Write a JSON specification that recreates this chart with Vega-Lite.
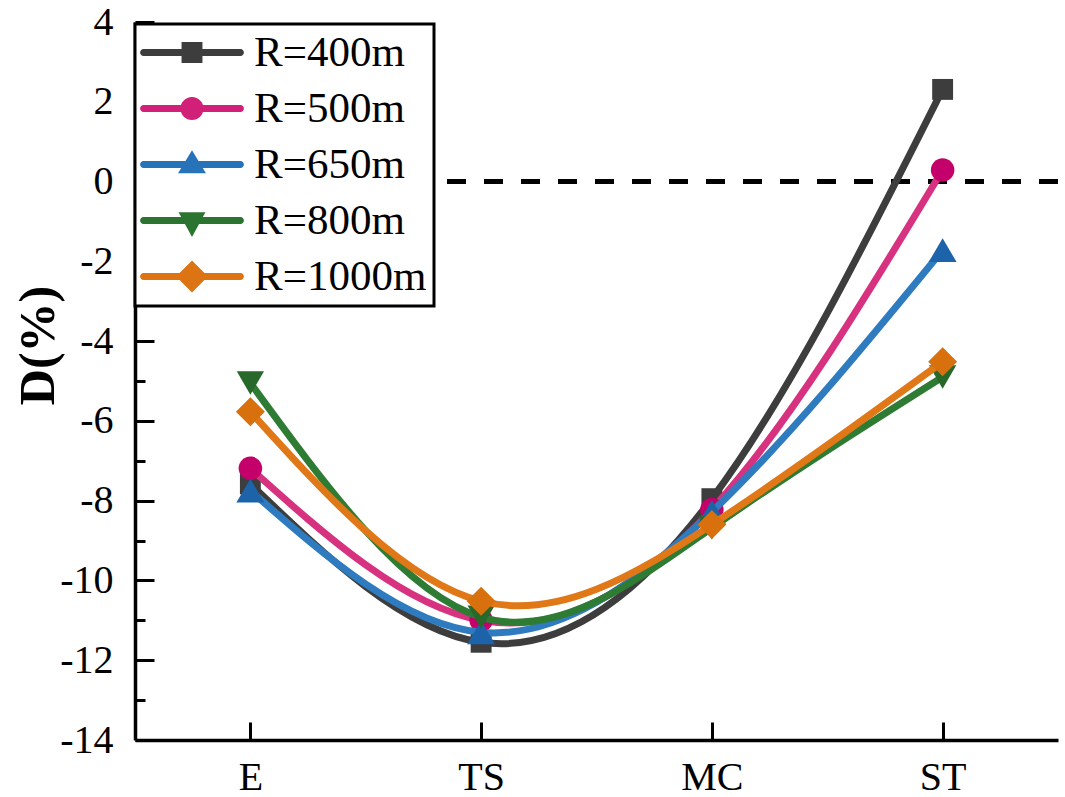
{
  "$schema": "https://vega.github.io/schema/vega-lite/v6.json",
  "width": 923,
  "height": 718,
  "autosize": {"type": "none"},
  "padding": {"left": 135, "top": 22, "right": 7, "bottom": 57},
  "background": "white",
  "config": {
    "view": {"stroke": null},
    "font": "Liberation Serif",
    "axis": {
      "domainColor": "black",
      "domainWidth": 3.5,
      "tickColor": "black",
      "tickWidth": 3,
      "labelColor": "black",
      "labelFont": "Liberation Serif",
      "labelFontSize": 40,
      "grid": false,
      "titleFont": "Liberation Serif",
      "titleColor": "black"
    },
    "legend": {"strokeWidth": 3},
    "line": {"interpolate": "natural", "strokeWidth": 7, "strokeCap": "round"},
    "point": {"filled": true, "opacity": 1, "strokeWidth": 0, "size": 484}
  },
  "data": {
    "values": [
      {"R": "R=400m", "pos": "E", "D": -7.58},
      {"R": "R=400m", "pos": "TS", "D": -11.55},
      {"R": "R=400m", "pos": "MC", "D": -7.95},
      {"R": "R=400m", "pos": "ST", "D": 2.31},
      {"R": "R=500m", "pos": "E", "D": -7.19},
      {"R": "R=500m", "pos": "TS", "D": -11.0},
      {"R": "R=500m", "pos": "MC", "D": -8.22},
      {"R": "R=500m", "pos": "ST", "D": 0.29},
      {"R": "R=650m", "pos": "E", "D": -7.75},
      {"R": "R=650m", "pos": "TS", "D": -11.3},
      {"R": "R=650m", "pos": "MC", "D": -8.28},
      {"R": "R=650m", "pos": "ST", "D": -1.72},
      {"R": "R=800m", "pos": "E", "D": -5.05},
      {"R": "R=800m", "pos": "TS", "D": -10.92},
      {"R": "R=800m", "pos": "MC", "D": -8.68},
      {"R": "R=800m", "pos": "ST", "D": -4.9},
      {"R": "R=1000m", "pos": "E", "D": -5.77},
      {"R": "R=1000m", "pos": "TS", "D": -10.52},
      {"R": "R=1000m", "pos": "MC", "D": -8.6},
      {"R": "R=1000m", "pos": "ST", "D": -4.52}
    ]
  },
  "resolve": {"axis": {"x": "independent", "y": "independent"}},
  "layer": [
    {
      "mark": {"type": "rule", "strokeDash": [19, 18], "strokeWidth": 3.5, "color": "black"},
      "encoding": {
        "y": {"datum": 0, "type": "quantitative", "scale": {"domain": [-14, 4], "nice": false}, "axis": null}
      }
    },
    {
      "transform": [{"filter": "datum.R === 'R=400m'"}],
      "mark": {"type": "line", "color": "#3d3d3d"},
      "encoding": {
        "x": {
          "field": "pos",
          "type": "nominal",
          "scale": {"type": "point", "domain": ["E", "TS", "MC", "ST"], "padding": 0.5},
          "axis": {
            "orient": "bottom",
            "title": null,
            "labelAngle": 0,
            "ticks": false,
            "tickSize": 0,
            "labelPadding": 17,
            "labelFontSize": 40
          }
        },
        "y": {
          "field": "D",
          "type": "quantitative",
          "scale": {"domain": [-14, 4], "nice": false},
          "axis": {
            "orient": "left",
            "values": [-14, -12, -10, -8, -6, -4, -2, 0, 2, 4],
            "ticks": false,
            "tickSize": 0,
            "labelExpr": "'' + datum.value",
            "labelOverlap": false,
            "labelPadding": 22,
            "labelFontSize": 40,
            "title": "D(%)",
            "titleFontSize": 50,
            "titleFontWeight": "bold",
            "titleAngle": -90,
            "titleX": -82,
            "titleY": 323,
            "titleAlign": "center",
            "titleBaseline": "alphabetic"
          }
        }
      }
    },
    {
      "transform": [{"filter": "datum.R === 'R=400m'"}],
      "mark": {"type": "point", "shape": "M-0.95,-0.95H0.95V0.95H-0.95Z", "color": "#3d3d3d"},
      "encoding": {
        "x": {
          "field": "pos",
          "type": "nominal",
          "axis": {"orient": "top", "offset": -718, "title": null, "labels": false, "domain": false, "ticks": true, "tickSize": 18}
        },
        "y": {
          "field": "D",
          "type": "quantitative",
          "axis": {
            "orient": "right",
            "offset": -923,
            "title": null,
            "labels": false,
            "domain": false,
            "ticks": true,
            "values": [-14, -13, -12, -11, -10, -9, -8, -7, -6, -5, -4, -3, -2, -1, 0, 1, 2, 3, 4],
            "tickSize": {"condition": {"test": "datum.value % 2 !== 0", "value": 10}, "value": 19}
          }
        }
      }
    },
    {
      "transform": [{"filter": "datum.R === 'R=500m'"}],
      "mark": {"type": "line", "color": "#d7327f"},
      "encoding": {"x": {"field": "pos", "type": "nominal", "axis": null}, "y": {"field": "D", "type": "quantitative", "axis": null}}
    },
    {
      "transform": [{"filter": "datum.R === 'R=500m'"}],
      "mark": {"type": "point", "shape": "M-1.07,0A1.07,1.07 0 1,1 1.07,0A1.07,1.07 0 1,1 -1.07,0Z", "color": "#c4006a"},
      "encoding": {"x": {"field": "pos", "type": "nominal", "axis": null}, "y": {"field": "D", "type": "quantitative", "axis": null}}
    },
    {
      "transform": [{"filter": "datum.R === 'R=650m'"}],
      "mark": {"type": "line", "color": "#2f7bc0"},
      "encoding": {"x": {"field": "pos", "type": "nominal", "axis": null}, "y": {"field": "D", "type": "quantitative", "axis": null}}
    },
    {
      "transform": [{"filter": "datum.R === 'R=650m'"}],
      "mark": {"type": "point", "shape": "M0,-1.08L1.27,1.08L-1.27,1.08Z", "color": "#1c63aa"},
      "encoding": {"x": {"field": "pos", "type": "nominal", "axis": null}, "y": {"field": "D", "type": "quantitative", "axis": null}}
    },
    {
      "transform": [{"filter": "datum.R === 'R=800m'"}],
      "mark": {"type": "line", "color": "#2e7b33"},
      "encoding": {"x": {"field": "pos", "type": "nominal", "axis": null}, "y": {"field": "D", "type": "quantitative", "axis": null}}
    },
    {
      "transform": [{"filter": "datum.R === 'R=800m'"}],
      "mark": {"type": "point", "shape": "M-1.24,-1.06L1.24,-1.06L0,1.06Z", "color": "#27692b"},
      "encoding": {"x": {"field": "pos", "type": "nominal", "axis": null}, "y": {"field": "D", "type": "quantitative", "axis": null}}
    },
    {
      "transform": [{"filter": "datum.R === 'R=1000m'"}],
      "mark": {"type": "line", "color": "#e07818"},
      "encoding": {"x": {"field": "pos", "type": "nominal", "axis": null}, "y": {"field": "D", "type": "quantitative", "axis": null}}
    },
    {
      "transform": [{"filter": "datum.R === 'R=1000m'"}],
      "mark": {"type": "point", "shape": "M0,-1.32L1.32,0L0,1.32L-1.32,0Z", "color": "#d9700e"},
      "encoding": {"x": {"field": "pos", "type": "nominal", "axis": null}, "y": {"field": "D", "type": "quantitative", "axis": null}}
    },
    {
      "mark": {"type": "point", "opacity": 0},
      "encoding": {
        "x": {"field": "pos", "type": "nominal", "axis": null},
        "y": {"field": "D", "type": "quantitative", "axis": null},
        "color": {
          "field": "R",
          "type": "nominal",
          "scale": {
            "domain": ["R=400m", "R=500m", "R=650m", "R=800m", "R=1000m"],
            "range": ["#3d3d3d", "#d21f78", "#2673ba", "#2b7430", "#dd7414"]
          },
          "legend": {
            "title": null,
            "orient": "none",
            "legendX": 0,
            "legendY": 2,
            "padding": 7,
            "rowPadding": 12,
            "symbolOffset": 28.5,
            "labelOffset": 40.5,
            "labelFont": "Liberation Serif",
            "labelFontSize": 43,
            "labelColor": "black",
            "labelLimit": 400,
            "fillColor": "white",
            "strokeColor": "black",
            "symbolOpacity": 1,
            "symbolStrokeWidth": 0,
            "symbolSize": 484
          }
        },
        "shape": {
          "field": "R",
          "type": "nominal",
          "scale": {
            "domain": ["R=400m", "R=500m", "R=650m", "R=800m", "R=1000m"],
            "range": [
              "M-4.4,-0.32H4.4A0.32,0.32 0 0,1 4.4,0.32H-4.4A0.32,0.32 0 0,1 -4.4,-0.32Z M-0.95,-0.95H0.95V0.95H-0.95Z",
              "M-4.4,-0.32H4.4A0.32,0.32 0 0,1 4.4,0.32H-4.4A0.32,0.32 0 0,1 -4.4,-0.32Z M-1.05,0A1.05,1.05 0 1,1 1.05,0A1.05,1.05 0 1,1 -1.05,0Z",
              "M-4.4,-0.32H4.4A0.32,0.32 0 0,1 4.4,0.32H-4.4A0.32,0.32 0 0,1 -4.4,-0.32Z M0,-1.3L1.27,0.8L-1.27,0.8Z",
              "M-4.4,-0.32H4.4A0.32,0.32 0 0,1 4.4,0.32H-4.4A0.32,0.32 0 0,1 -4.4,-0.32Z M-1.22,-0.75L1.22,-0.75L0,1.5Z",
              "M-4.4,-0.32H4.4A0.32,0.32 0 0,1 4.4,0.32H-4.4A0.32,0.32 0 0,1 -4.4,-0.32Z M0,-1.45L1.45,0L0,1.45L-1.45,0Z"
            ]
          },
          "legend": {
            "title": null,
            "orient": "none",
            "legendX": 0,
            "legendY": 2,
            "padding": 7,
            "rowPadding": 12,
            "symbolOffset": 28.5,
            "labelOffset": 40.5,
            "labelFont": "Liberation Serif",
            "labelFontSize": 43,
            "labelColor": "black",
            "labelLimit": 400,
            "fillColor": "white",
            "strokeColor": "black",
            "symbolOpacity": 1,
            "symbolStrokeWidth": 0,
            "symbolSize": 484
          }
        }
      }
    }
  ]
}
